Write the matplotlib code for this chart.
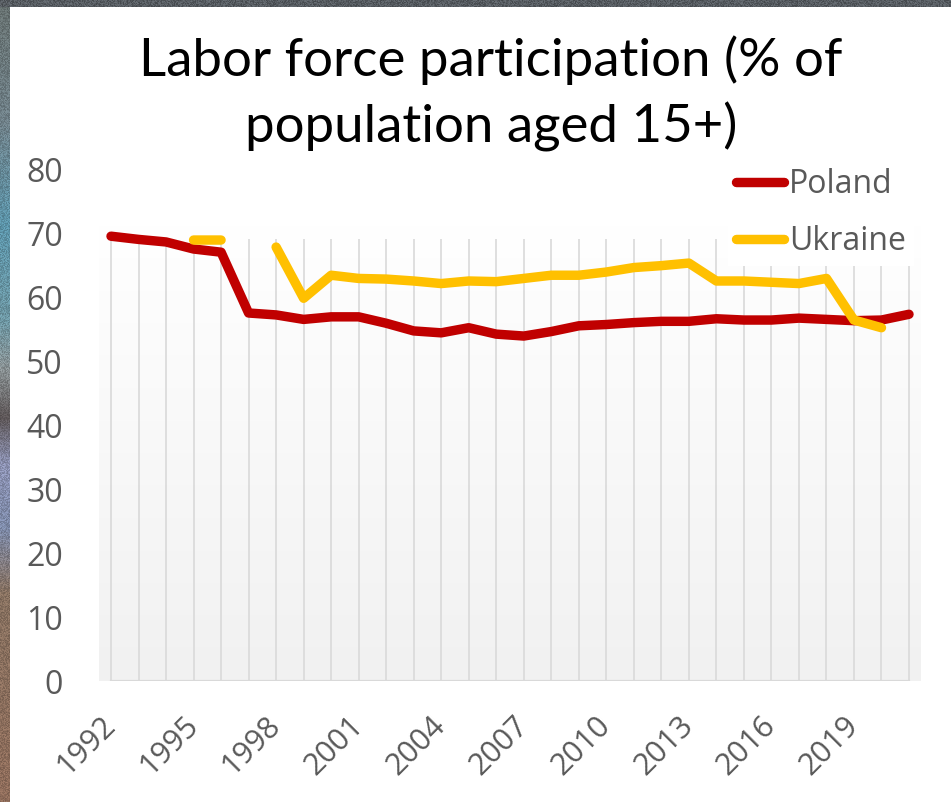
import numpy as np
import matplotlib
matplotlib.use("Agg")
import matplotlib.pyplot as plt
from matplotlib.colors import LinearSegmentedColormap

# ---- data -------------------------------------------------------------
years = list(range(1992, 2022))
poland = [69.5, 69.0, 68.6, 67.5, 67.0, 57.5, 57.2, 56.5, 56.9, 56.9,
          55.9, 54.7, 54.4, 55.2, 54.2, 53.9, 54.6, 55.5, 55.7, 56.0,
          56.2, 56.2, 56.6, 56.4, 56.4, 56.7, 56.5, 56.3, 56.4, 57.3]
nan = np.nan
ukraine = [nan, nan, nan, 68.9, 68.9, nan, 67.8, 59.8, 63.4, 62.9,
           62.8, 62.5, 62.1, 62.5, 62.4, 62.9, 63.4, 63.4, 63.9, 64.6,
           64.9, 65.3, 62.5, 62.5, 62.3, 62.1, 62.9, 56.4, 55.2, nan]
series_names = ["Poland", "Ukraine"]
series_colors = ["#C00000", "#FFC000"]
x_tick_years = list(range(1992, 2020, 3))
y_ticks = list(range(0, 81, 10))
title_lines = ["Labor force participation (% of", "population aged 15+)"]

TEXT_GRAY = "#595959"
GRID_GRAY = "#d9d9d9"

W, H, DPI = 951, 802, 100
fig = plt.figure(figsize=(W / DPI, H / DPI), dpi=DPI, facecolor="white")

# ---- stone-like border strips (deterministic hash noise) ---------------
def hash_noise(h, w, seed):
    yy, xx = np.mgrid[0:h, 0:w].astype(float)
    v = np.sin(xx * 12.9898 + yy * 78.233 + seed) * 43758.5453
    return v - np.floor(v)

# left strip: colour bands running down the page
stops = [(0.00, "#66706f"), (0.15, "#6f8088"), (0.28, "#5b93a8"),
         (0.40, "#6d96a2"), (0.46, "#8a9294"), (0.52, "#5d5657"),
         (0.58, "#8d93b4"), (0.66, "#7d8aa8"), (0.74, "#86705f"),
         (1.00, "#8e6c5a")]
band = LinearSegmentedColormap.from_list("band", stops)
left_h, left_w = H, 10
base = band(np.linspace(0, 1, left_h))[:, None, :3] * np.ones((1, left_w, 1))
n = hash_noise(left_h, left_w, 1.7)[..., None]
left_img = np.clip(base * (0.85 + 0.30 * n), 0, 1)
ax_l = fig.add_axes([0, 0, left_w / W, 1])
ax_l.imshow(left_img, aspect="auto", interpolation="bilinear")
ax_l.axis("off")

top_h, top_w = 7, W
n2 = hash_noise(top_h, top_w, 4.2)[..., None]
top_base = np.array([0.33, 0.35, 0.37])[None, None, :]
top_img = np.clip(top_base * (0.80 + 0.45 * n2), 0, 1)
ax_t = fig.add_axes([0, 1 - top_h / H, 1, top_h / H])
ax_t.imshow(top_img, aspect="auto", interpolation="bilinear")
ax_t.axis("off")

# ---- main axes --------------------------------------------------------
ax = fig.add_axes([99 / W, 121 / H, 822 / W, 512 / H])
ax.set_facecolor("none")
x0, x1 = years[0] - 0.436, years[-1] + 0.436
ax.set_xlim(x0, x1)
ax.set_ylim(0, 80)

# plot-area gradient (white at top to light gray at bottom)
grad = np.linspace(0.0, 1.0, 256)[:, None]
gcmap = LinearSegmentedColormap.from_list("g", ["#ffffff", "#f1f1f1"])
ax.imshow(grad, extent=[x0, x1, 0, 71.25], aspect="auto", cmap=gcmap,
          vmin=0, vmax=1, origin="upper", zorder=0)

# vertical category gridlines and base line
ax.vlines(years, 0, 69, color=GRID_GRAY, lw=1.2, zorder=1)
ax.plot([years[0], years[-1]], [0, 0], color=GRID_GRAY, lw=1.6, zorder=1)

lines = []
for vals, name, col in zip([poland, ukraine], series_names, series_colors):
    ln, = ax.plot(years, vals, color=col, lw=6.8, label=name,
                  solid_capstyle="round", solid_joinstyle="round", zorder=3)
    lines.append(ln)

for s in ax.spines.values():
    s.set_visible(False)

ax.set_yticks(y_ticks)
ax.set_yticklabels([str(v) for v in y_ticks], fontsize=23,
                   fontfamily="Open Sans", color=TEXT_GRAY)
ax.tick_params(axis="y", length=0, pad=26)

ax.set_xticks(x_tick_years)
ax.set_xticklabels([str(v) for v in x_tick_years], fontsize=22,
                   fontfamily="Open Sans", color=TEXT_GRAY, rotation=45,
                   ha="right", va="center", rotation_mode="anchor")
ax.tick_params(axis="x", length=0, pad=29)

leg = ax.legend(handles=lines, loc="upper left",
                bbox_to_anchor=(728 / W, 1 - 160 / H),
                bbox_transform=fig.transFigure,
                prop={"family": "Open Sans", "size": 23},
                frameon=True, facecolor="white", edgecolor="none",
                fancybox=False, framealpha=1.0,
                handlelength=1.5, handletextpad=0.15,
                labelspacing=0.75, borderpad=0.25, borderaxespad=0)
for t in leg.get_texts():
    t.set_color(TEXT_GRAY)
leg.set_zorder(2)

# ---- title ------------------------------------------------------------
title_kw = dict(ha="center", va="baseline", fontsize=38,
                family=["Lato", "DejaVu Sans"], color="black")
fig.text(491 / W, 1 - 76 / H, title_lines[0], **title_kw)
fig.text(491 / W, 1 - 142 / H, title_lines[1], **title_kw)

fig.savefig("out.png", dpi=DPI, facecolor="white")
